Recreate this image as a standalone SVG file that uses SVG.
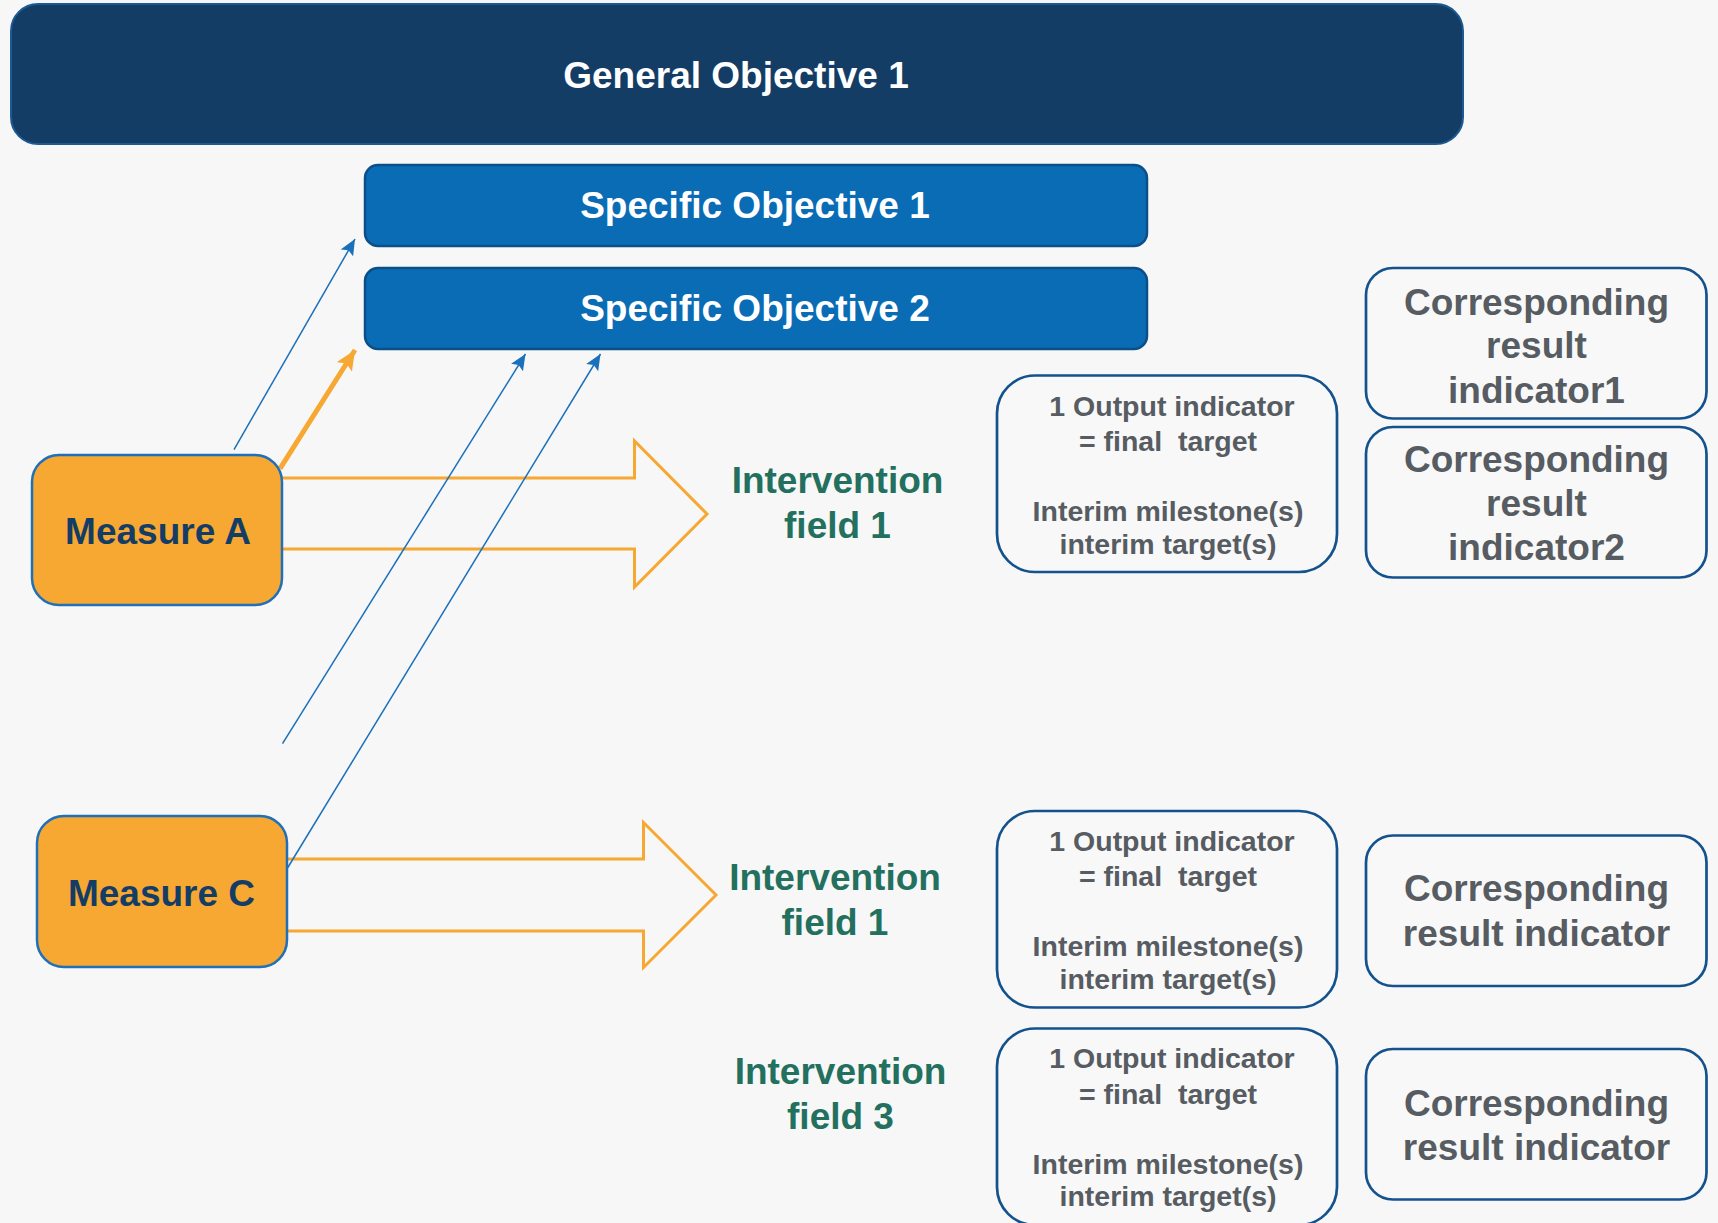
<svg xmlns="http://www.w3.org/2000/svg" width="1718" height="1223" viewBox="0 0 1718 1223">
<defs>
<style>
text{font-family:"Liberation Sans",Arial,sans-serif;font-weight:bold;text-anchor:middle}
.go{fill:#143D66;stroke:#1D5A94;stroke-width:2}
.so{fill:#0A6CB5;stroke:#0C4E88;stroke-width:2.5}
.ms{fill:#F7A833;stroke:#1F70B8;stroke-width:2.5}
.ob{fill:#F8F8F8;stroke:#14528E;stroke-width:2.7}
.w{fill:#FFFFFF;font-size:37px}
.mt{fill:#143D66;font-size:37px}
.gt{fill:#23705F;font-size:37px}
.ot{fill:#565C62;font-size:28.5px}
.rt{fill:#565C62;font-size:37px}
.blk{fill:none;stroke:#F7A833;stroke-width:3}
.ln{fill:none;stroke:#1A70BA;stroke-width:1.5}
.or{fill:none;stroke:#F7A833;stroke-width:5}
</style>
<marker id="ab" markerUnits="userSpaceOnUse" markerWidth="18" markerHeight="16" refX="16" refY="7" orient="auto">
<path d="M0,0 L16,7 L0,14 L3,7 Z" fill="#1A70BA"/>
</marker>
<marker id="ao" markerUnits="userSpaceOnUse" markerWidth="22" markerHeight="20" refX="20" refY="9" orient="auto">
<path d="M0,0 L20,9 L0,18 L4,9 Z" fill="#F7A833"/>
</marker>
</defs>
<rect width="1718" height="1223" fill="#F7F7F7"/>

<g id="connectors">
<path class="blk" d="M282,478 H634.5 V441 L707,514 L634.5,587 V549 H282"/>
<path class="blk" d="M287,859 H643.5 V822.5 L716,895 L643.5,967.5 V931 H287"/>
<line class="ln" x1="234" y1="449.6" x2="355" y2="239" marker-end="url(#ab)"/>
<line class="or" x1="280" y1="468.6" x2="355" y2="350" marker-end="url(#ao)"/>
<line class="ln" x1="282.5" y1="743.7" x2="525.5" y2="354" marker-end="url(#ab)"/>
<line class="ln" x1="286.3" y1="870" x2="600.5" y2="354" marker-end="url(#ab)"/>
</g>

<g id="general-objective">
<rect class="go" x="11" y="4" width="1452" height="140" rx="27"/>
<text class="w" x="736" y="88">General Objective 1</text>
</g>
<g id="specific-objective-1">
<rect class="so" x="365" y="165" width="782" height="81" rx="13"/>
<text class="w" x="755" y="217.5">Specific Objective 1</text>
</g>
<g id="specific-objective-2">
<rect class="so" x="365" y="268" width="782" height="81" rx="13"/>
<text class="w" x="755" y="320.5">Specific Objective 2</text>
</g>

<g id="measure-a">
<rect class="ms" x="32" y="455" width="250" height="150" rx="27"/>
<text class="mt" x="158" y="544">Measure A</text>
</g>
<g id="measure-c">
<rect class="ms" x="37" y="816" width="250" height="151" rx="27"/>
<text class="mt" x="161.5" y="906">Measure C</text>
</g>

<g id="intervention-field-1a">
<text class="gt" x="837.5" y="493">Intervention</text>
<text class="gt" x="837.5" y="538">field 1</text>
</g>
<g id="intervention-field-1b">
<text class="gt" x="835" y="890">Intervention</text>
<text class="gt" x="835" y="934.5">field 1</text>
</g>
<g id="intervention-field-3">
<text class="gt" x="840.5" y="1084">Intervention</text>
<text class="gt" x="840.5" y="1129">field 3</text>
</g>

<g id="output-indicator-1">
<rect class="ob" x="997" y="375.5" width="340" height="196.5" rx="38"/>
<text class="ot" x="1172" y="416">1 Output indicator</text>
<text class="ot" x="1168" y="451" xml:space="preserve">= final  target</text>
<text class="ot" x="1168" y="521">Interim milestone(s)</text>
<text class="ot" x="1168" y="553.5">interim target(s)</text>
</g>
<g id="output-indicator-2">
<rect class="ob" x="997" y="811" width="340" height="196.5" rx="38"/>
<text class="ot" x="1172" y="850.5">1 Output indicator</text>
<text class="ot" x="1168" y="885.5" xml:space="preserve">= final  target</text>
<text class="ot" x="1168" y="956">Interim milestone(s)</text>
<text class="ot" x="1168" y="989">interim target(s)</text>
</g>
<g id="output-indicator-3">
<rect class="ob" x="997" y="1028.5" width="340" height="196.5" rx="38"/>
<text class="ot" x="1172" y="1068">1 Output indicator</text>
<text class="ot" x="1168" y="1104" xml:space="preserve">= final  target</text>
<text class="ot" x="1168" y="1174">Interim milestone(s)</text>
<text class="ot" x="1168" y="1206">interim target(s)</text>
</g>

<g id="result-indicator-1">
<rect class="ob" x="1366" y="268" width="340.5" height="150.5" rx="27"/>
<text class="rt" x="1536.5" y="314.5">Corresponding</text>
<text class="rt" x="1536.5" y="358">result</text>
<text class="rt" x="1536.5" y="402.5">indicator1</text>
</g>
<g id="result-indicator-2">
<rect class="ob" x="1366" y="427" width="340.5" height="150.5" rx="27"/>
<text class="rt" x="1536.5" y="471.5">Corresponding</text>
<text class="rt" x="1536.5" y="515.5">result</text>
<text class="rt" x="1536.5" y="559.5">indicator2</text>
</g>
<g id="result-indicator-3">
<rect class="ob" x="1366" y="835.5" width="340.5" height="150.5" rx="27"/>
<text class="rt" x="1536.5" y="901">Corresponding</text>
<text class="rt" x="1536.5" y="946">result indicator</text>
</g>
<g id="result-indicator-4">
<rect class="ob" x="1366" y="1049" width="340.5" height="150.5" rx="27"/>
<text class="rt" x="1536.5" y="1116">Corresponding</text>
<text class="rt" x="1536.5" y="1160">result indicator</text>
</g>
</svg>
